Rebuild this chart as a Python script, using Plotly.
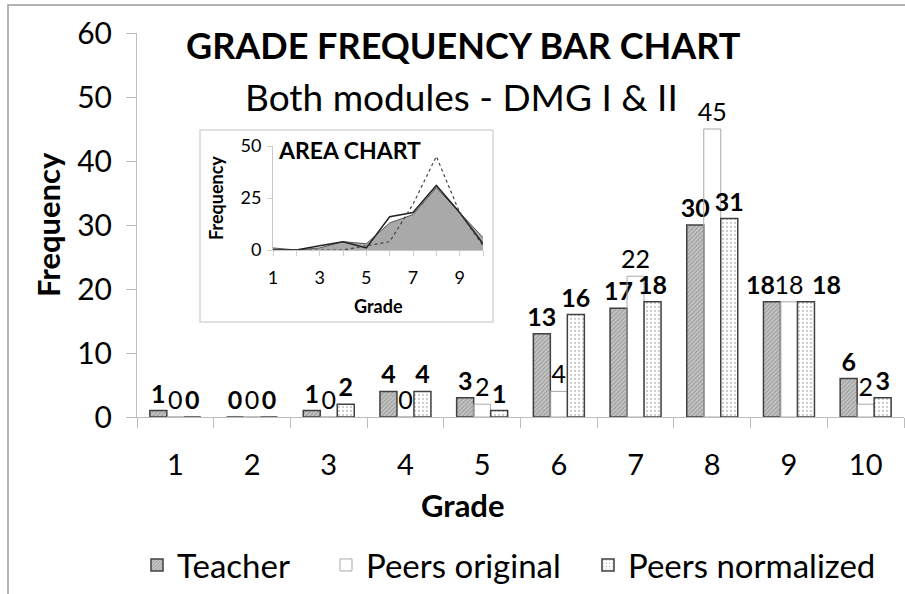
import plotly.graph_objects as go

grades = ["1", "2", "3", "4", "5", "6", "7", "8", "9", "10"]
grade_nums = [1, 2, 3, 4, 5, 6, 7, 8, 9, 10]
teacher = [1, 0, 1, 4, 3, 13, 17, 30, 18, 6]
peers_original = [0, 0, 0, 0, 2, 4, 22, 45, 18, 2]
peers_normalized = [0, 0, 2, 4, 1, 16, 18, 31, 18, 3]

y_ticks = [0, 10, 20, 30, 40, 50, 60]
inset_y_ticks = [0, 25, 50]
inset_x_labels = ["1", "", "3", "", "5", "", "7", "", "9", ""]

# labels that were moved sideways in the original chart to avoid overlapping
moved_label_index = 8

FONT = "Lato"
W, H = 905, 594
L, R, T, B = 137, 1, 33, 177
PW, PH = W - L - R, H - T - B


def px(x):
    return (x - L) / PW


def py(y):
    return (H - B - y) / PH


def labels(values, skip=None):
    return ["" if i == skip else str(v) for i, v in enumerate(values)]


LABEL_SIZE = 25

fig = go.Figure()

fig.add_trace(go.Bar(
    x=grades, y=teacher, name="Teacher",
    marker=dict(color="#bdbdbd", line=dict(color="#404040", width=1.5),
                pattern=dict(shape="/", fgcolor="#6e6e6e", bgcolor="#c4c4c4", size=3, solidity=0.35)),
    text=labels(teacher, moved_label_index), textposition="outside", constraintext="none",
    textfont=dict(family=FONT, size=LABEL_SIZE, color="black", weight="bold"),
    cliponaxis=False, legend="legend",
))
fig.add_trace(go.Bar(
    x=grades, y=peers_original, name="Peers original",
    marker=dict(color="rgba(255,255,255,0)", line=dict(color="#a8a8a8", width=1)),
    text=labels(peers_original), textposition="outside", constraintext="none",
    textfont=dict(family=FONT, size=LABEL_SIZE, color="black"),
    cliponaxis=False, legend="legend2",
))
fig.add_trace(go.Bar(
    x=grades, y=peers_normalized, name="Peers normalized",
    marker=dict(color="white", line=dict(color="#404040", width=1.5),
                pattern=dict(shape=".", fgcolor="#9a9a9a", bgcolor="white", size=4, solidity=0.25)),
    text=labels(peers_normalized, moved_label_index), textposition="outside", constraintext="none",
    textfont=dict(family=FONT, size=LABEL_SIZE, color="black", weight="bold"),
    cliponaxis=False, legend="legend3",
))

# inset area chart
fig.add_trace(go.Scatter(
    x=grade_nums, y=teacher, mode="lines", fill="tozeroy",
    fillcolor="#a9a9a9", line=dict(color="#555555", width=1),
    xaxis="x2", yaxis="y2", showlegend=False, hoverinfo="skip",
))
fig.add_trace(go.Scatter(
    x=grade_nums, y=peers_normalized, mode="lines",
    line=dict(color="#222222", width=1.5),
    xaxis="x2", yaxis="y2", showlegend=False, hoverinfo="skip",
))
fig.add_trace(go.Scatter(
    x=grade_nums, y=peers_original, mode="lines",
    line=dict(color="#444444", width=1.2, dash="dot"),
    xaxis="x2", yaxis="y2", showlegend=False, hoverinfo="skip",
))

axis_gray = "#bdbdbd"

legend_common = dict(orientation="h", yanchor="middle", xanchor="left",
                     font=dict(family=FONT, size=33, color="black"),
                     bgcolor="rgba(0,0,0,0)", itemwidth=30)

# category axis: annotation x given as the category's serial number
moved_annotations = [
    dict(x=moved_label_index, y=teacher[moved_label_index], xref="x", yref="y",
         text="<b>%d</b>" % teacher[moved_label_index], showarrow=False, xshift=-28, yshift=1,
         yanchor="bottom", font=dict(family=FONT, size=LABEL_SIZE, color="black")),
    dict(x=moved_label_index, y=peers_normalized[moved_label_index], xref="x", yref="y",
         text="<b>%d</b>" % peers_normalized[moved_label_index], showarrow=False, xshift=38, yshift=1,
         yanchor="bottom", font=dict(family=FONT, size=LABEL_SIZE, color="black")),
]

fig.update_layout(
    width=W, height=H,
    margin=dict(l=L, r=R, t=T, b=B, autoexpand=False),
    paper_bgcolor="white", plot_bgcolor="white",
    barmode="group", bargap=0.335, bargroupgap=0,
    font=dict(family=FONT, color="black"),
    xaxis=dict(type="category", categoryorder="array", categoryarray=grades,
               range=[-0.5, 9.5], tickson="boundaries", ticks="outside", ticklen=10,
               tickcolor=axis_gray, showline=True, linecolor=axis_gray, linewidth=1,
               showgrid=False, tickfont=dict(family=FONT, size=29, color="black"),
               ticklabelstandoff=22),
    yaxis=dict(range=[0, 60], tickvals=y_ticks, ticks="outside", ticklen=10,
               tickcolor=axis_gray, showline=True, linecolor=axis_gray, linewidth=1,
               showgrid=False, zeroline=False,
               tickfont=dict(family=FONT, size=30, color="black"), ticklabelstandoff=8),
    xaxis2=dict(domain=[px(273), px(483)], anchor="y2", range=[1, 10],
                tickvals=grade_nums, ticktext=inset_x_labels, ticks="outside", ticklen=5,
                tickcolor="#d0d0d0", showline=True, linecolor="#c8c8c8", showgrid=False,
                zeroline=False, tickfont=dict(family=FONT, size=18, color="black"),
                ticklabelstandoff=6),
    yaxis2=dict(domain=[py(250), py(146)], anchor="x2", range=[0, 50],
                tickvals=inset_y_ticks, ticks="outside", ticklen=5,
                tickcolor="#d0d0d0", showline=True, linecolor="#c8c8c8", showgrid=False,
                zeroline=False, tickfont=dict(family=FONT, size=18, color="black"),
                ticklabelstandoff=2),
    legend=dict(x=px(137), y=py(565), **legend_common),
    legend2=dict(x=px(326), y=py(565), **legend_common),
    legend3=dict(x=px(588), y=py(565), **legend_common),
    shapes=[
        dict(type="rect", xref="paper", yref="paper", x0=px(8), x1=px(960), y0=py(700), y1=py(5),
             line=dict(color="#9a9a9a", width=1.5), fillcolor="rgba(0,0,0,0)", layer="below"),
        dict(type="rect", xref="paper", yref="paper", x0=px(200), x1=px(493), y0=py(322), y1=py(130),
             line=dict(color="#d6d6d6", width=1.5), fillcolor="white", layer="below"),
    ],
    annotations=[
        dict(text="<b>GRADE FREQUENCY BAR CHART</b>", xref="paper", yref="paper",
             x=px(463), y=py(45), showarrow=False, font=dict(family=FONT, size=36, color="black"),
             xanchor="center", yanchor="middle"),
        dict(text="Both modules - DMG I & II", xref="paper", yref="paper",
             x=px(461), y=py(97), showarrow=False, font=dict(family=FONT, size=37, color="black"),
             xanchor="center", yanchor="middle"),
        dict(text="<b>Frequency</b>", xref="paper", yref="paper", textangle=-90,
             x=px(48), y=py(225), showarrow=False, font=dict(family=FONT, size=31, color="black"),
             xanchor="center", yanchor="middle"),
        dict(text="<b>Grade</b>", xref="paper", yref="paper",
             x=px(463), y=py(505), showarrow=False, font=dict(family=FONT, size=31, color="black"),
             xanchor="center", yanchor="middle"),
        dict(text="<b>AREA CHART</b>", xref="paper", yref="paper",
             x=px(349), y=py(150), showarrow=False, font=dict(family=FONT, size=23, color="black"),
             xanchor="center", yanchor="middle"),
        dict(text="<b>Frequency</b>", xref="paper", yref="paper", textangle=-90,
             x=px(216), y=py(198), showarrow=False, font=dict(family=FONT, size=18, color="black"),
             xanchor="center", yanchor="middle"),
        dict(text="<b>Grade</b>", xref="paper", yref="paper",
             x=px(378), y=py(306), showarrow=False, font=dict(family=FONT, size=18, color="black"),
             xanchor="center", yanchor="middle"),
    ] + moved_annotations,
)

fig.write_html("out.html", config={"displayModeBar": False},
               post_script="document.body.style.margin='0';")
